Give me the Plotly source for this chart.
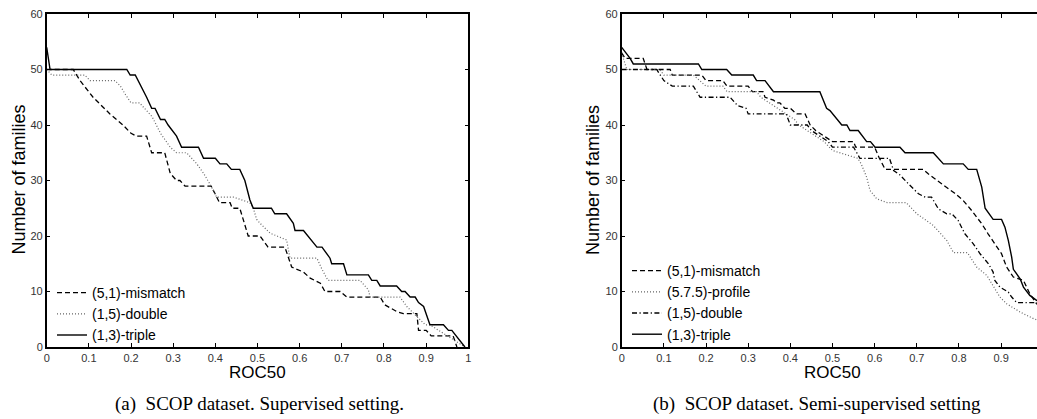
import plotly.graph_objects as go

# ---------------- data: panel (a) SCOP supervised ----------------
a_mismatch_x = [0, 0.063, 0.079, 0.11, 0.15, 0.181, 0.2, 0.213, 0.237, 0.249, 0.28, 0.293, 0.308, 0.316,
                0.328, 0.39, 0.40, 0.41, 0.435, 0.44, 0.458, 0.478, 0.506, 0.525, 0.565, 0.581, 0.609,
                0.625, 0.649, 0.66, 0.696, 0.712, 0.791, 0.802, 0.83, 0.846, 0.878, 0.882, 0.9, 0.912,
                0.964, 0.973]
a_mismatch_y = [50, 50, 48, 45, 42, 40, 38.5, 38, 38, 35, 35, 31.3, 30, 30,
                29, 29, 27.5, 26, 26, 25, 25, 20, 20, 18, 18, 14.4, 13.5,
                12.4, 11.5, 10, 10, 9, 9, 7.6, 6.4, 6, 6, 3, 3, 2,
                2, 0]

a_double_x = [0, 0.012, 0.09, 0.103, 0.162, 0.175, 0.185, 0.2, 0.22, 0.235, 0.25, 0.27, 0.293, 0.308,
              0.332, 0.356, 0.372, 0.39, 0.403, 0.443, 0.482, 0.49, 0.498, 0.506, 0.53, 0.569, 0.577,
              0.641, 0.653, 0.667, 0.743, 0.763, 0.767, 0.838, 0.854, 0.878, 0.898, 0.909, 0.93, 0.953,
              0.992]
a_double_y = [50, 49, 49, 48, 48, 47, 45.7, 44, 44, 42.7, 41.5, 38.5, 36, 35,
              35, 33, 31.3, 29, 27, 27, 26, 25, 23, 22.3, 20.5, 19.3, 16,
              16, 14, 12, 12, 10.3, 9, 9, 7.3, 5.5, 4, 4, 3, 1.9,
              0]

a_triple_x = [0, 0.008, 0.19, 0.198, 0.21, 0.217, 0.229, 0.237, 0.249, 0.257, 0.27, 0.28, 0.288, 0.298,
              0.308, 0.32, 0.36, 0.372, 0.40, 0.411, 0.427, 0.438, 0.458, 0.47, 0.482, 0.49, 0.533,
              0.541, 0.569, 0.585, 0.589, 0.609, 0.629, 0.641, 0.653, 0.672, 0.676, 0.704, 0.712, 0.763,
              0.771, 0.783, 0.791, 0.830, 0.842, 0.850, 0.862, 0.874, 0.882, 0.894, 0.909, 0.941, 0.953,
              0.961, 0.966, 0.992]
a_triple_y = [54, 50, 50, 49, 49, 48, 46, 45, 43, 43, 41, 41, 40, 39,
              38, 36, 36, 34, 34, 33, 33, 32, 32, 30, 26.5, 25, 25,
              24, 24, 22.3, 21, 21, 19, 18, 18, 16, 15, 15, 13, 13,
              12, 12, 11, 11, 10, 10, 9, 9, 8, 7.3, 4, 4, 3,
              3, 2.5, 0]

# ---------------- data: panel (b) SCOP semi-supervised ----------------
b_mismatch_x = [0, 0.008, 0.051, 0.06, 0.115, 0.12, 0.19, 0.2, 0.24, 0.25, 0.3, 0.31, 0.335, 0.34,
                0.36, 0.367, 0.375, 0.387, 0.40, 0.415, 0.435, 0.447, 0.46, 0.48, 0.5, 0.55, 0.555,
                0.6, 0.61, 0.625, 0.715, 0.727, 0.747, 0.766, 0.79, 0.81, 0.83, 0.854, 0.869, 0.888,
                0.901, 0.913, 0.929, 0.953, 0.968, 0.984, 1.0]
b_mismatch_y = [53, 52, 52, 50, 50, 49, 49, 48, 48, 47, 47, 46, 46, 45,
                44.5, 44, 44, 43, 43, 42, 42, 40, 39, 38, 37, 37, 36,
                36, 34.2, 32, 32, 31.2, 30, 29, 27.7, 26.4, 24.6, 22.2, 20.4, 18.3,
                16.8, 14.4, 12.6, 12, 9.6, 7.8, 7]

b_profile_x = [0, 0.012, 0.09, 0.1, 0.17, 0.185, 0.2, 0.24, 0.25, 0.32, 0.33, 0.35, 0.37, 0.39,
               0.41, 0.42, 0.45, 0.48, 0.5, 0.56, 0.568, 0.581, 0.589, 0.605, 0.63, 0.675, 0.7,
               0.739, 0.771, 0.787, 0.82, 0.842, 0.866, 0.886, 0.897, 0.913, 0.945, 0.977, 1.0]
b_profile_y = [53, 50, 50, 49, 49, 48, 47, 47, 46, 46, 45, 44, 43, 42,
               41, 40, 38.5, 37, 35.4, 34, 33, 30.6, 28.2, 26.7, 26, 26, 24,
               21.9, 19.2, 17, 17, 14.4, 12.9, 10.5, 9, 7.8, 6.3, 5.1, 4.5]

b_double_x = [0, 0.083, 0.1, 0.12, 0.17, 0.186, 0.257, 0.275, 0.295, 0.3, 0.39, 0.4, 0.44, 0.45,
              0.47, 0.49, 0.5, 0.55, 0.565, 0.635, 0.645, 0.66, 0.68, 0.704, 0.72, 0.735, 0.751,
              0.771, 0.783, 0.798, 0.814, 0.834, 0.85, 0.87, 0.881, 0.885, 0.897, 0.917, 0.925, 0.937,
              1.0]
b_double_y = [50, 50, 48, 47, 47, 45, 45, 43.5, 43, 42, 42, 40, 40, 39,
              38, 37, 36, 36, 34, 34, 31.8, 31, 29.4, 27.6, 27, 27, 24.9,
              24, 24, 22.8, 20.4, 18.6, 16.8, 15, 13.5, 12, 10.8, 9.9, 9, 8,
              8]

b_triple_x = [0, 0.02, 0.0275, 0.182, 0.19, 0.249, 0.261, 0.312, 0.32, 0.34, 0.36, 0.47, 0.486, 0.494,
              0.522, 0.534, 0.5415, 0.561, 0.581, 0.59, 0.601, 0.66, 0.672, 0.739, 0.763, 0.81, 0.822,
              0.842, 0.854, 0.862, 0.881, 0.901, 0.909, 0.917, 0.925, 0.929, 0.945, 0.953, 0.968, 0.984,
              1.0]
b_triple_y = [54, 52, 51, 51, 50, 50, 49, 49, 48, 48, 46, 46, 43, 42.6,
              40, 40, 39, 39, 37, 37, 36, 36, 35, 35, 33, 33, 32,
              32, 28.8, 25, 23, 23, 21.6, 19.2, 16.2, 14, 12.3, 10.8, 9.3, 8.4,
              8]

x_tick_vals = [0, 0.1, 0.2, 0.3, 0.4, 0.5, 0.6, 0.7, 0.8, 0.9, 1]
x_tick_text = ["0", "0.1", "0.2", "0.3", "0.4", "0.5", "0.6", "0.7", "0.8", "0.9", "1"]
y_tick_vals = [0, 10, 20, 30, 40, 50, 60]
y_tick_text = ["0", "10", "20", "30", "40", "50", "60"]

names_a = ["(5,1)-mismatch", "(1,5)-double", "(1,3)-triple"]
names_b = ["(5,1)-mismatch", "(5.7.5)-profile", "(1,5)-double", "(1,3)-triple"]
x_title = "ROC50"
y_title = "Number of families"
caption_a = "(a)  SCOP dataset. Supervised setting."
caption_b = "(b)  SCOP dataset. Semi-supervised setting"

# ---------------- styling ----------------
W, H = 1037, 419
SANS = "Liberation Sans, Arial, Helvetica, sans-serif"
SERIF = "Liberation Serif, Times New Roman, serif"

STY_DASH = dict(color="black", width=1.3, dash="5px,3px")
STY_DOT = dict(color="#666666", width=1.2, dash="1px,2px")
STY_DASHDOT = dict(color="black", width=1.3, dash="5px,2.5px,1.2px,2.5px")
STY_SOLID = dict(color="black", width=1.4)

fig = go.Figure()

for xs, ys, nm, st in [
    (a_mismatch_x, a_mismatch_y, names_a[0], STY_DASH),
    (a_double_x, a_double_y, names_a[1], STY_DOT),
    (a_triple_x, a_triple_y, names_a[2], STY_SOLID),
]:
    fig.add_trace(go.Scatter(x=xs, y=ys, mode="lines", name=nm, line=st,
                             xaxis="x", yaxis="y", legend="legend"))

for xs, ys, nm, st in [
    (b_mismatch_x, b_mismatch_y, names_b[0], STY_DASH),
    (b_profile_x, b_profile_y, names_b[1], STY_DOT),
    (b_double_x, b_double_y, names_b[2], STY_DASHDOT),
    (b_triple_x, b_triple_y, names_b[3], STY_SOLID),
]:
    fig.add_trace(go.Scatter(x=xs, y=ys, mode="lines", name=nm, line=st,
                             xaxis="x2", yaxis="y2", legend="legend2"))

# pixel geometry of the two panels
ax_left_a, ax_right_a = 46.7, 468.3
ax_left_b = 621.7
unit_w = ax_right_a - ax_left_a
ax_top, ax_bot = 14.0, 347.0
b_range_max = (W - ax_left_b) / unit_w

ydom = [1 - ax_bot / H, 1 - ax_top / H]

common_x = dict(showline=True, linecolor="black", linewidth=1.5, ticks="inside", ticklen=4,
                tickcolor="black", tickwidth=1, showgrid=False, zeroline=False, automargin=False,
                tickvals=x_tick_vals, ticktext=x_tick_text,
                tickfont=dict(family=SANS, size=11, color="#333333"))
common_y = dict(showline=True, linecolor="black", linewidth=1.5, ticks="inside", ticklen=4,
                tickcolor="black", tickwidth=1, showgrid=False, zeroline=False, automargin=False,
                tickvals=y_tick_vals, ticktext=y_tick_text, range=[0, 60],
                tickfont=dict(family=SANS, size=11, color="#333333"))

legend_common = dict(bgcolor="rgba(0,0,0,0)", borderwidth=0, xanchor="left", yanchor="bottom",
                     font=dict(family=SANS, size=14, color="black"), tracegroupgap=0)

fig.update_layout(
    width=W, height=H,
    margin=dict(l=0, r=0, t=0, b=0, autoexpand=False),
    paper_bgcolor="white", plot_bgcolor="white",
    xaxis=dict(domain=[ax_left_a / W, ax_right_a / W], range=[0, 1], anchor="y", mirror="allticks", **common_x),
    yaxis=dict(domain=ydom, anchor="x", mirror="allticks", **common_y),
    xaxis2=dict(domain=[ax_left_b / W, 1.0], range=[0, b_range_max], anchor="y2", mirror="allticks", **common_x),
    yaxis2=dict(domain=ydom, anchor="x2", mirror=False, **common_y),
    legend=dict(x=52 / W, y=1 - 351 / H, **legend_common),
    legend2=dict(x=627 / W, y=1 - 350 / H, **legend_common),
    showlegend=True,
)

annos = [
    dict(text=y_title, x=18.5 / W, y=1 - 180 / H, textangle=-90, font=dict(family=SANS, size=18, color="black")),
    dict(text=y_title, x=593 / W, y=1 - 180 / H, textangle=-90, font=dict(family=SANS, size=18, color="black")),
    dict(text=x_title, x=(ax_left_a + ax_right_a) / 2 / W, y=1 - 372 / H, font=dict(family=SANS, size=17, color="black")),
    dict(text=x_title, x=(ax_left_b + ax_left_b + unit_w) / 2 / W, y=1 - 372 / H, font=dict(family=SANS, size=17, color="black")),
    dict(text=caption_a, x=259 / W, y=1 - 404 / H, font=dict(family=SERIF, size=19, color="black")),
    dict(text=caption_b, x=817 / W, y=1 - 404 / H, font=dict(family=SERIF, size=19, color="black")),
]
for a in annos:
    fig.add_annotation(xref="paper", yref="paper", showarrow=False, xanchor="center", yanchor="middle", **a)

fig.write_html("out.html",
               config={"displayModeBar": False},
               post_script="document.body.style.margin='0px';document.body.style.padding='0px';"
                           "document.body.style.overflow='hidden';")
